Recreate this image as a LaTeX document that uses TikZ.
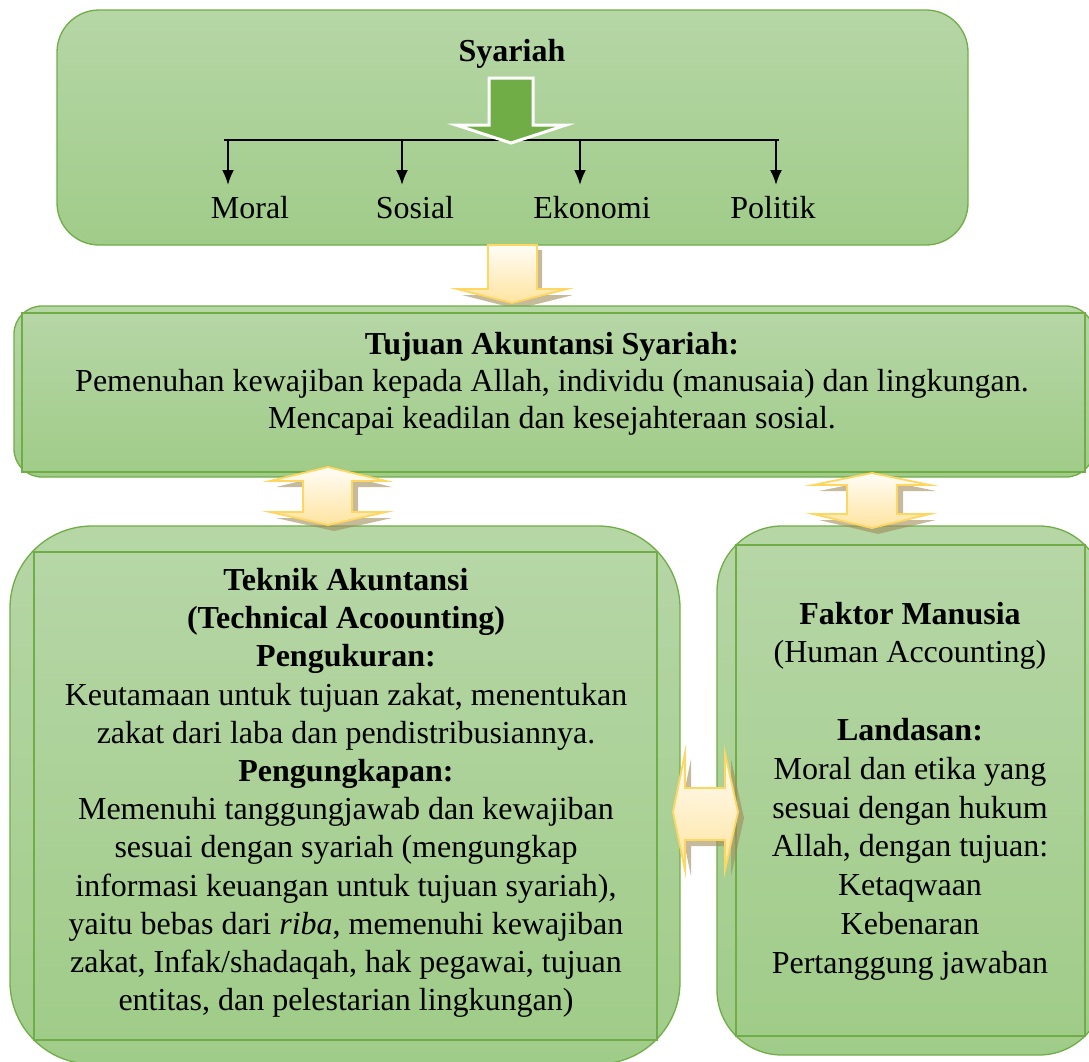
\documentclass[tikz,border=0pt]{standalone}
\usepackage{fontspec}
\setmainfont{Liberation Serif}
\usetikzlibrary{arrows.meta}
\definecolor{gtop}{RGB}{182,214,166}
\definecolor{gbot}{RGB}{160,204,137}
\definecolor{gline}{RGB}{112,173,71}
\definecolor{gdark}{RGB}{112,173,71}
\definecolor{ytop}{RGB}{255,253,247}
\definecolor{ybot}{RGB}{255,228,160}
\definecolor{yline}{RGB}{255,214,95}
\definecolor{yshadow}{RGB}{160,140,90}
\tikzset{
  panel/.style={draw=gline, line width=1.3pt, top color=gtop, bottom color=gbot},
  yarrow/.style={draw=yline, line width=1.8pt, top color=ytop, bottom color=ybot, line join=miter},
  yshade/.style={fill=yshadow, opacity=0.6},
  txt/.style={font=\fontsize{32}{37.5}\selectfont, align=center, inner sep=0pt},
  branch/.style={line width=2pt, -{Latex[length=15pt,width=12pt]}}
}
\begin{document}
\begin{tikzpicture}[x=1pt,y=-1pt]
\useasboundingbox (0,0) rectangle (1089,1061);
\clip (0,0) rectangle (1089,1061);

% ---- Syariah panel ----
\draw[panel, rounded corners=42pt] (57,10) rectangle (968,245);
\node[txt, font=\fontsize{32}{36}\selectfont\bfseries] (syariah) at (512,54) {Syariah};
\coordinate (hl) at (224,140);
\coordinate (hr) at (779,140);
\draw[line width=2pt] (hl) -- (hr);
\foreach \n/\x in {moral/228, sosial/402, ekonomi/580, politik/776}{
  \coordinate (\n top) at (\x,139);
  \coordinate (\n tip) at (\x,185);
  \draw[branch] (\n top) -- (\n tip);
}
\node[txt] (moral) at (250,208) {Moral};
\node[txt] (sosial) at (415,208) {Sosial};
\node[txt] (ekonomi) at (592,208) {Ekonomi};
\node[txt] (politik) at (773,208) {Politik};
% green block arrow
\draw[fill=gdark, draw=white, line width=3pt, line join=miter]
  (489,78) -- (533,78) -- (533,125) -- (566,125) -- (511,143) -- (456,125) -- (489,125) -- cycle;

% ---- down arrow between panels ----
\fill[yshade] (493,250) -- (542,250) -- (542,295) -- (573,295) -- (517,309) -- (462,295) -- (493,295) -- cycle;
\draw[yarrow] (488,245) -- (537,245) -- (537,289) -- (567,289) -- (512,303) -- (457,289) -- (488,289) -- cycle;

% ---- Tujuan panel ----
\draw[panel, rounded corners=28pt] (14,306) rectangle (1094,477);
\draw[panel] (22,313) rectangle (1085,472);
\node[txt, font=\fontsize{32}{37}\selectfont] (tujuan) at (552,384)
  {\textbf{Tujuan Akuntansi Syariah:}\\
   Pemenuhan kewajiban kepada Allah, individu (manusaia) dan lingkungan.\\
   Mencapai keadilan dan kesejahteraan sosial.};

% ---- Teknik panel ----
\draw[panel, rounded corners=82pt] (10,526) rectangle (680,1064);
\draw[panel] (34,552) rectangle (657,1040);
% ---- Faktor panel ----
\draw[panel, rounded corners=65pt] (717,526) rectangle (1104,1055);
\draw[panel] (736,545) rectangle (1085,1036);

% ---- vertical double arrows ----
\fill[yshade] (334,473) -- (392,487) -- (358,487) -- (358,518) -- (392,518) -- (334,531) -- (276,518) -- (309,518) -- (309,487) -- (276,487) -- cycle;
\draw[yarrow] (328,467) -- (386,481) -- (352,481) -- (352,512) -- (386,512) -- (328,525) -- (270,512) -- (303,512) -- (303,481) -- (270,481) -- cycle;
\fill[yshade] (878,479) -- (936,491) -- (903,491) -- (903,520) -- (936,520) -- (878,534) -- (819,520) -- (853,520) -- (853,491) -- (819,491) -- cycle;
\draw[yarrow] (872,473) -- (930,485) -- (897,485) -- (897,514) -- (930,514) -- (872,528) -- (813,514) -- (847,514) -- (847,485) -- (813,485) -- cycle;

% ---- horizontal double arrow ----
\fill[yshade] (679,818) -- (691,759) -- (691,794) -- (731,794) -- (731,759) -- (744,818) -- (731,876) -- (731,846) -- (691,846) -- (691,876) -- cycle;
\draw[yarrow] (673,812) -- (685,753) -- (685,788) -- (725,788) -- (725,753) -- (738,812) -- (725,870) -- (725,840) -- (685,840) -- (685,870) -- cycle;

% ---- panel texts ----
\node[txt, font=\fontsize{32}{38.2}\selectfont] (teknik) at (346,793)
  {\textbf{Teknik Akuntansi}\\
   \textbf{(Technical Acoounting)}\\
   \textbf{Pengukuran:}\\
   Keutamaan untuk tujuan zakat, menentukan\\
   zakat dari laba dan pendistribusiannya.\\
   \textbf{Pengungkapan:}\\
   Memenuhi tanggungjawab dan kewajiban\\
   sesuai dengan syariah (mengungkap\\
   informasi keuangan untuk tujuan syariah),\\
   yaitu bebas dari \textit{riba}, memenuhi kewajiban\\
   zakat, Infak/shadaqah, hak pegawai, tujuan\\
   entitas, dan pelestarian lingkungan)};
\node[txt, font=\fontsize{32}{38.8}\selectfont] (faktor) at (910,791)
  {\textbf{Faktor Manusia}\\
   (Human Accounting)\\
   \mbox{}\\
   \textbf{Landasan:}\\
   Moral dan etika yang\\
   sesuai dengan hukum\\
   Allah, dengan tujuan:\\
   Ketaqwaan\\
   Kebenaran\\
   Pertanggung jawaban};
\end{tikzpicture}
\end{document}
